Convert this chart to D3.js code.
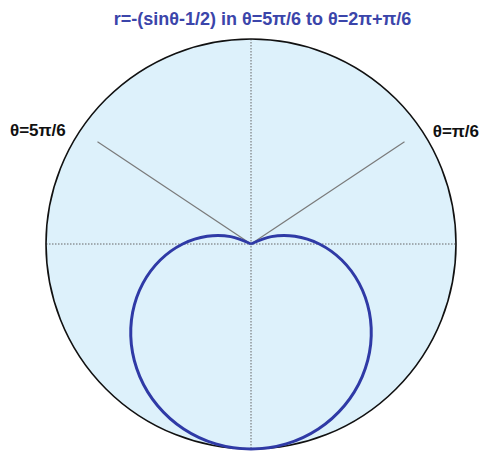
<!DOCTYPE html>
<html>
<head>
<meta charset="utf-8">
<script src="https://cdn.jsdelivr.net/npm/d3@7"></script>
<style>
  body { margin: 0; background: #fff; }
  text { font-family: "Liberation Sans", Arial, sans-serif; font-weight: bold; }
</style>
</head>
<body>
<div id="chart"></div>
<script>
// polar curve r = -(sin(theta) - 1/2), theta in degrees
const thetaDeg = [150, 160, 170, 180, 190, 200, 210, 220, 230, 240, 250, 260, 270,
                  280, 290, 300, 310, 320, 330, 340, 350, 360, 370, 380, 390];
const rValues = [0, 0.158, 0.326, 0.5, 0.674, 0.842, 1.0, 1.143, 1.266, 1.366, 1.44, 1.485, 1.5,
                 1.485, 1.44, 1.366, 1.266, 1.143, 1.0, 0.842, 0.674, 0.5, 0.326, 0.158, 0];

// guide rays (angle in degrees as drawn, length in r units)
const rayAngles = [146.3, 33.7];
const rayLengths = [1.35, 1.35];
const rayLabels = ['θ=5π/6', 'θ=π/6'];

const rMax = 1.5;
const title = 'r=-(sinθ-1/2) in θ=5π/6 to θ=2π+π/6';

const width = 480;
const height = 452;
const cx = 251, cy = 244, R = 205;

const svg = d3.select('#chart').append('svg').attr('width', width).attr('height', height);

const r = d3.scaleLinear().domain([0, rMax]).range([0, R]);
const toRad = (deg) => Math.PI / 2 - (deg * Math.PI) / 180; // d3 radial: clockwise from top

const plot = svg.append('g').attr('transform', `translate(${cx},${cy})`);

// background disc
plot.append('circle')
  .attr('r', r(rMax))
  .attr('fill', '#ddf1fb')
  .attr('stroke', 'none');

// dotted axes
plot.append('line')
  .attr('x1', -r(rMax)).attr('x2', r(rMax)).attr('y1', 0).attr('y2', 0)
  .attr('stroke', '#666').attr('stroke-width', 1).attr('stroke-dasharray', '1.5,1.5');
plot.append('line')
  .attr('y1', -r(rMax)).attr('y2', r(rMax)).attr('x1', 0).attr('x2', 0)
  .attr('stroke', '#666').attr('stroke-width', 1).attr('stroke-dasharray', '1.5,1.5');

// rays
const rays = rayAngles.map((a, i) => ({ a, len: rayLengths[i] }));
plot.selectAll('.ray')
  .data(rays)
  .enter()
  .append('path')
  .attr('class', 'ray')
  .attr('d', (d) => d3.lineRadial()([[0, 0], [toRad(d.a), r(d.len)]]))
  .attr('fill', 'none')
  .attr('stroke', '#7a7a7a')
  .attr('stroke-width', 1.2);

// circle outline
plot.append('circle')
  .attr('r', r(rMax))
  .attr('fill', 'none')
  .attr('stroke', '#111')
  .attr('stroke-width', 1.6);

// curve
const pts = thetaDeg.map((t, i) => [toRad(t), r(rValues[i])]);
plot.append('path')
  .attr('d', d3.lineRadial().curve(d3.curveCatmullRom)(pts))
  .attr('fill', 'none')
  .attr('stroke', '#2f3aa6')
  .attr('stroke-width', 3);

// title
svg.append('text')
  .attr('x', 262.5)
  .attr('y', 25)
  .attr('text-anchor', 'middle')
  .attr('font-size', 18)
  .attr('fill', '#3b45aa')
  .text(title);

// ray labels
svg.append('text')
  .attr('x', 10).attr('y', 136)
  .attr('font-size', 17)
  .attr('fill', '#111')
  .text(rayLabels[0]);
svg.append('text')
  .attr('x', 479).attr('y', 137)
  .attr('text-anchor', 'end')
  .attr('font-size', 17)
  .attr('fill', '#111')
  .text(rayLabels[1]);
</script>
</body>
</html>
